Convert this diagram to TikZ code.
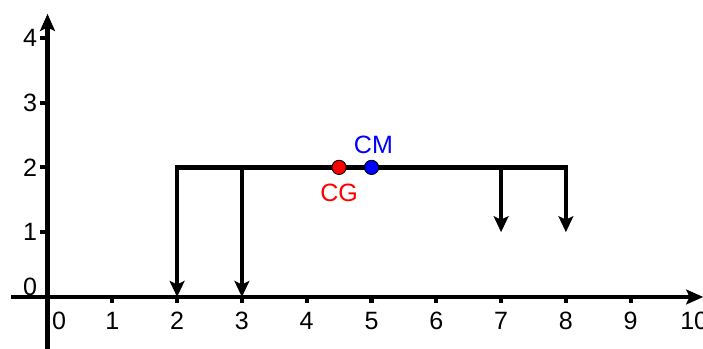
\documentclass[tikz,border=0pt]{standalone}
\usepackage{fontspec}
\setmainfont{Liberation Sans}
\usetikzlibrary{arrows.meta}
\begin{document}
\begin{tikzpicture}[
  axis/.style={line width=2pt,-{Stealth[length=7.5pt,width=6.5pt,inset=1.5pt]}},
  tick/.style={line width=1.8pt},
  beam/.style={line width=2pt,line cap=rect},
  load/.style={line width=1.5pt,-{Stealth[length=7pt,width=6.5pt,inset=1.5pt]}},
  lbl/.style={font=\fontsize{11}{13}\selectfont, inner sep=0pt},
  dot/.style={circle,draw=black,line width=0.4pt,minimum size=0.22cm,inner sep=0pt}
]
\useasboundingbox (-0.733,-0.80) rectangle (10.116,4.583);
% axes
\coordinate (xs) at (-0.56,0);
\coordinate (xe) at (10.12,0);
\coordinate (ys) at (0,-0.85);
\coordinate (ye) at (0,4.37);
\draw[axis] (xs) -- (xe);
\draw[axis] (ys) -- (ye);
% x ticks and labels
\foreach \i in {1,...,9} {
  \coordinate (xt\i) at (\i,0);
  \draw[tick] (xt\i) -- ++(0,-0.09);
  \node[lbl] (xl\i) at (\i,-0.37) {\i};
}
\node[lbl] (xl0) at (0.18,-0.37) {0};
\node[lbl] (xl10) at (9.98,-0.37) {10};
% y ticks and labels
\foreach \j in {1,...,4} {
  \coordinate (yt\j) at (0,\j);
  \draw[tick] (yt\j) -- ++(-0.11,0);
  \node[lbl] (yl\j) at (-0.27,\j) {\j};
}
\node[lbl] (yl0) at (-0.27,0.16) {0};
% beam
\coordinate (b2) at (2,2);
\coordinate (b3) at (3,2);
\coordinate (b7) at (7,2);
\coordinate (b8) at (8,2);
\coordinate (e2) at (2,0);
\coordinate (e3) at (3,0);
\coordinate (e7) at (7,1);
\coordinate (e8) at (8,1);
\draw[load] (b2) -- (e2);
\draw[load] (b3) -- (e3);
\draw[load] (b7) -- (e7);
\draw[load] (b8) -- (e8);
\draw[beam] (b2) -- (b8);
% CG and CM
\node[dot,fill=red] (cg) at (4.5,2) {};
\node[dot,fill=blue] (cm) at (5,2) {};
\node[lbl,text=red] (cgl) at (4.5,1.6) {CG};
\node[lbl,text=blue] (cml) at (5.03,2.35) {CM};
\end{tikzpicture}
\end{document}
